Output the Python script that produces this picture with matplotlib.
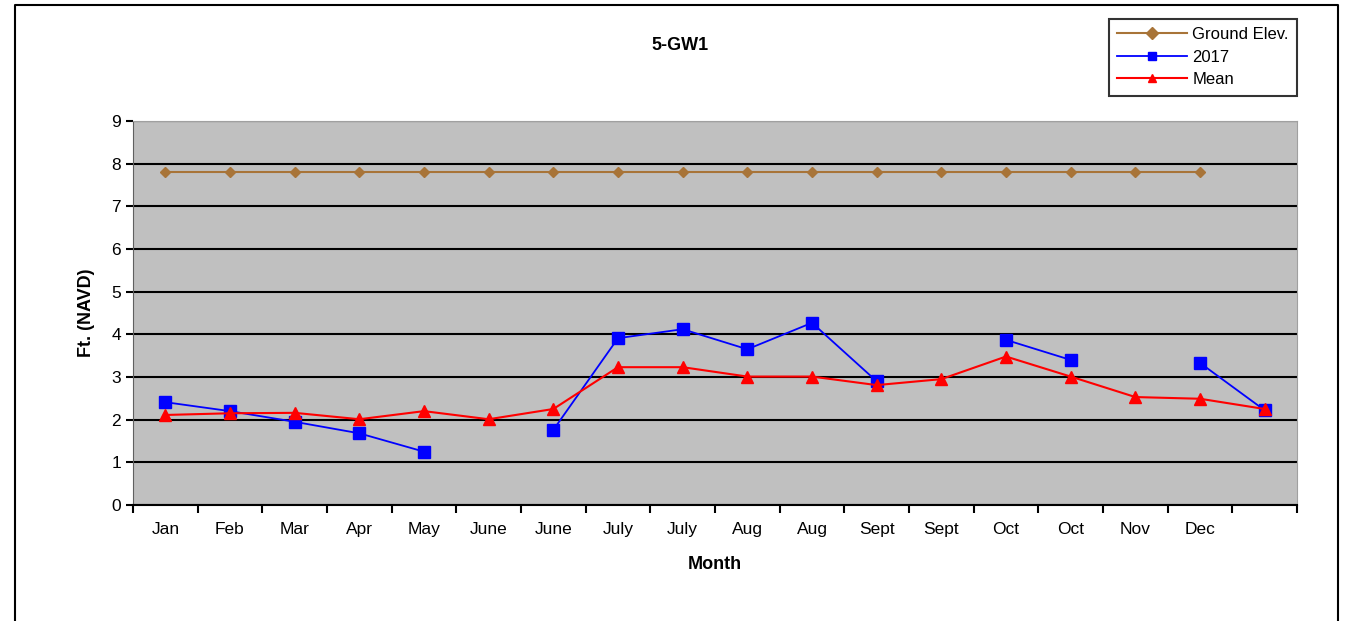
import numpy as np
import matplotlib.pyplot as plt
from matplotlib.lines import Line2D

plt.rcParams['font.family'] = ['Liberation Sans', 'DejaVu Sans']

# Month categories (last slot has no label)
months = ['Jan', 'Feb', 'Mar', 'Apr', 'May', 'June', 'June', 'July', 'July',
          'Aug', 'Aug', 'Sept', 'Sept', 'Oct', 'Oct', 'Nov', 'Dec', '']

ground_elev = [7.8] * 17 + [np.nan]
wl_2017 = [2.41, 2.2, 1.95, 1.68, 1.25, np.nan, 1.76, 3.91, 4.12, 3.65, 4.27,
           2.9, np.nan, 3.87, 3.4, np.nan, 3.33, 2.22]
wl_mean = [2.11, 2.15, 2.16, 2.01, 2.2, 2.01, 2.25, 3.23, 3.23, 3.01, 3.01,
           2.81, 2.95, 3.48, 3.01, 2.53, 2.49, 2.25]

fig = plt.figure(figsize=(13.46, 6.21), dpi=100)
ax = fig.add_axes([133 / 1346, 1 - 505 / 621, 1164 / 1346, 384 / 621])

x = np.arange(len(months))
ax.plot(x, ground_elev, color='#A87438', marker='D', markersize=5, lw=1.5,
        label='Ground Elev.')
ax.plot(x, wl_2017, color='#0000FF', marker='s', markersize=9, lw=1.3,
        label='2017')
ax.plot(x, wl_mean, color='#FF0000', marker='^', markersize=9, lw=1.5,
        label='Mean')

ax.set_facecolor('#C0C0C0')
ax.set_xlim(-0.5, len(months) - 0.5)
ax.set_ylim(0, 9)
ax.set_yticks(range(10))
ax.yaxis.grid(True, color='black', lw=1.5)
ax.set_axisbelow(True)

ax.set_xticks(x)
ax.set_xticklabels(months)
ax.set_xticks(np.arange(len(months) + 1) - 0.5, minor=True)
ax.tick_params(axis='x', which='major', length=0, pad=12, labelsize=12.5)
ax.tick_params(axis='x', which='minor', length=6, width=1.5, direction='out')
ax.tick_params(axis='y', length=5, width=1.5, labelsize=12.5)

for s in ['top', 'right']:
    ax.spines[s].set_color('#A0A0A0')
ax.spines['left'].set_color('#606060')
ax.spines['bottom'].set_linewidth(1.5)

ax.set_ylabel('Ft. (NAVD)', fontsize=13, fontweight='bold', labelpad=12)
ax.set_xlabel('Month', fontsize=13, fontweight='bold', labelpad=14)
fig.text(680 / 1346, 1 - 45 / 621, '5-GW1', fontsize=13, fontweight='bold',
         ha='center', va='center')

leg = fig.legend(loc='upper right', bbox_to_anchor=(1297 / 1346, 1 - 19 / 621),
                 fontsize=12, frameon=True, fancybox=False, edgecolor='black',
                 handlelength=4.2, borderpad=0.5, labelspacing=0.45,
                 handletextpad=0.3, borderaxespad=0)
leg.get_frame().set_linewidth(1.5)
for h in leg.legend_handles:
    h.set_markersize(6)

# outer chart border
l, r, t = 15 / 1346, 1338 / 1346, 1 - 5 / 621
fig.add_artist(Line2D([l, l, r, r], [0, t, t, 0], transform=fig.transFigure,
                      color='black', lw=1.5))

fig.savefig('out.png', dpi=100)
